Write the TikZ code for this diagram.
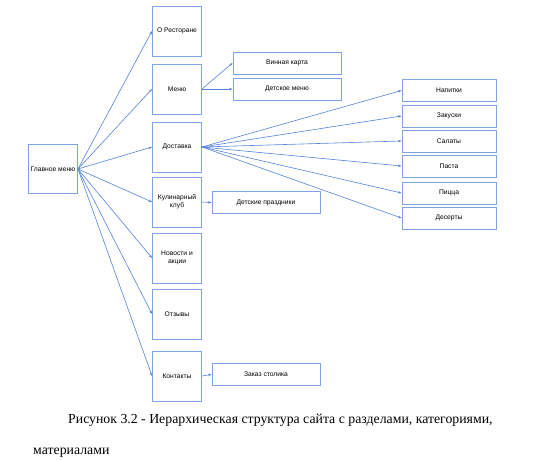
\documentclass[tikz,border=0pt]{standalone}
\usepackage{fontspec}
\setmainfont{Liberation Serif}
\newfontfamily\boxfont{Liberation Sans}
\usetikzlibrary{positioning}
\usetikzlibrary{arrows.meta}

\definecolor{boxline}{RGB}{125,165,228}
\definecolor{linkline}{RGB}{85,130,218}

\tikzset{
    section/.style={draw=boxline, line width=0.9pt, minimum width=49pt, minimum height=50pt,
        align=center, inner sep=1pt, font=\boxfont\fontsize{6.7}{8}\selectfont},
    item/.style={draw=boxline, line width=0.9pt, minimum width=108pt, minimum height=22pt,
        inner sep=1pt, font=\boxfont\fontsize{6.7}{8}\selectfont},
    dish/.style={item, minimum width=94pt},
    link/.style={draw=linkline, line width=0.6pt, -{Stealth[length=3.5pt,width=2.5pt]}}
}

\begin{document}
\begin{tikzpicture}[x=1pt,y=-1pt]
    \useasboundingbox (0,0) rectangle (533,460);

    %draw root
    \node[section, minimum height=49pt] (main) at (53,169) {Главное меню};

    %draw sections
    \node[section] (about) at (177,31) {О Ресторане};
    \node[section] (menu) at (177,89) {Меню};
    \node[section] (delivery) at (177,147) {Доставка};
    \node[section] (club) at (177,202) {Кулинарный\\клуб};
    \node[section] (news) at (177,258) {Новости и\\акции};
    \node[section] (reviews) at (177,314) {Отзывы};
    \node[section] (contacts) at (177,376) {Контакты};

    %draw subsections
    \node[item] (wine) at (287,63) {Винная карта};
    \node[item] (kids) at (287,89) {Детское меню};
    \node[item] (party) at (266,202.5) {Детские праздники};
    \node[item] (table) at (266,374.5) {Заказ столика};

    %draw dishes
    \node[dish] (drinks) at (449,90.5) {Напитки};
    \node[dish] (snacks) at (449,116) {Закуски};
    \node[dish] (salads) at (449,141) {Салаты};
    \node[dish] (pasta) at (449,166) {Паста};
    \node[dish] (pizza) at (449,193) {Пицца};
    \node[dish] (desserts) at (449,218) {Десерты};

    %draw links
    \foreach \s in {about,menu,delivery,club,news,reviews,contacts}
    \draw[link] (main.east) -- (\s.west);
    \foreach \d in {drinks,snacks,salads,pasta,pizza,desserts}
    \draw[link] (delivery.east) -- (\d.west);
    \draw[link] (menu.east) -- (wine.west);
    \draw[link] (menu.east) -- (kids.west);
    \draw[link] (club.east) -- (party.west);
    \draw[link] (contacts.east) -- (table.west);

    %draw caption
    \node[anchor=west, inner sep=0pt, font=\fontsize{13.8}{16}\selectfont] (cap1) at (68,420)
        {Рисунок 3.2 - Иерархическая структура сайта с разделами, категориями,};
    \node[anchor=west, inner sep=0pt, font=\fontsize{13.8}{16}\selectfont] (cap2) at (33,453)
        {материалами};

\end{tikzpicture}
\end{document}
